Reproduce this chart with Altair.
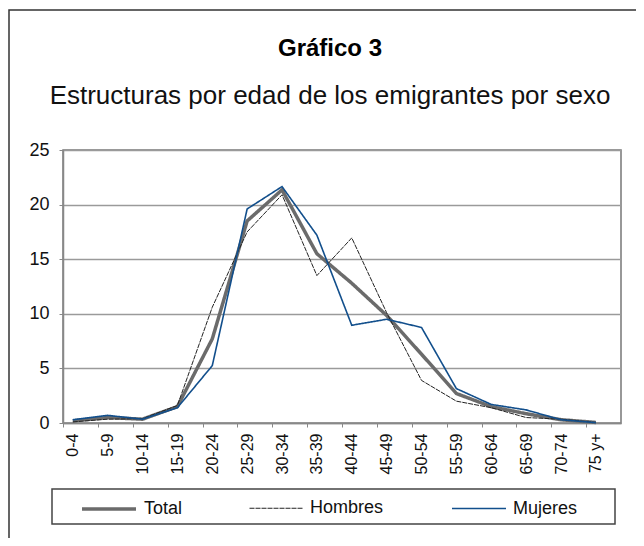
import altair as alt
import pandas as pd

categories = ["0-4", "5-9", "10-14", "15-19", "20-24", "25-29", "30-34", "35-39",
              "40-44", "45-49", "50-54", "55-59", "60-64", "65-69", "70-74", "75 y+"]
total = [0.2, 0.5, 0.35, 1.5, 7.7, 18.5, 21.35, 15.5, 12.8, 9.85, 6.3, 2.7, 1.5, 0.85, 0.3, 0.05]
hombres = [0.1, 0.35, 0.4, 1.6, 10.6, 17.5, 20.9, 13.5, 16.95, 10.1, 3.9, 2.0, 1.4, 0.5, 0.35, 0.05]
mujeres = [0.3, 0.7, 0.35, 1.4, 5.25, 19.6, 21.65, 17.2, 8.95, 9.5, 8.75, 3.15, 1.7, 1.2, 0.3, 0.03]
series_names = ["Total", "Hombres", "Mujeres"]
y_ticks = [0, 5, 10, 15, 20, 25]

rows = []
for name, vals in zip(series_names, [total, hombres, mujeres]):
    for c, v in zip(categories, vals):
        rows.append({"edad": c, "valor": v, "serie": name})
df = pd.DataFrame(rows)

FONT = "Liberation Sans"

x_enc = alt.X("edad:N", sort=categories, title=None,
              scale=alt.Scale(type="point", padding=0.5, align=0.28),
              axis=alt.Axis(labelAngle=-90, labelFontSize=16, labelFont=FONT, labelColor="#111",
                            tickSize=4, tickColor="#888", tickOffset=-9.7, labelOffset=9.7,
                            labelPadding=6, domainColor="#888", domainWidth=1.5, grid=False))
y_enc = alt.Y("valor:Q", title=None,
              scale=alt.Scale(domain=[0, 25], nice=False),
              axis=alt.Axis(values=y_ticks, labelFontSize=18, labelFont=FONT, labelColor="#111",
                            tickSize=4, tickColor="#888", labelPadding=10,
                            domainColor="#888", domainWidth=1.5,
                            gridColor="#9a9a9a", gridWidth=1.5))
color_enc = alt.Color("serie:N", title=None,
                      scale=alt.Scale(domain=series_names, range=["#6b6b6b", "#222222", "#124f8c"]))
width_enc = alt.StrokeWidth("serie:N", title=None,
                            scale=alt.Scale(type="ordinal", domain=series_names, range=[3.5, 1, 1.6]))
dash_enc = alt.StrokeDash("serie:N", title=None,
                          scale=alt.Scale(domain=series_names, range=[[1, 0], [5, 1], [1, 0]]))

base = alt.Chart(df).mark_line().encode(
    x=x_enc, y=y_enc, color=color_enc, strokeWidth=width_enc, strokeDash=dash_enc)

layers = [base.transform_filter(alt.datum.serie == s) for s in series_names]

one = pd.DataFrame({"k": [0]})
frame = alt.Chart(one).mark_rect(fill="transparent", stroke="#333", strokeWidth=1.5).encode(
    x=alt.value(-54), x2=alt.value(700), y=alt.value(-140), y2=alt.value(600))
legend_box = alt.Chart(one).mark_rect(fill="white", stroke="#444", strokeWidth=1.5).encode(
    x=alt.value(-11), x2=alt.value(552), y=alt.value(339), y2=alt.value(374))

chart = alt.layer(frame, legend_box, *layers).properties(
    width=558, height=273,
    autosize=alt.AutoSizeParams(type="none"),
    padding={"left": 55, "top": 142, "right": 15, "bottom": 115},
    title=alt.TitleParams(
        text="Gráfico 3",
        subtitle="Estructuras por edad de los emigrantes por sexo",
        font=FONT, fontSize=24, fontWeight="bold", color="#000",
        subtitleFont=FONT, subtitleFontSize=26, subtitleColor="#111",
        anchor="middle", dx=-12, dy=138, offset=38, subtitlePadding=22),
).configure_view(stroke="#777", strokeWidth=1.5).configure_legend(
    orient="none", legendX=17, legendY=330, direction="horizontal",
    symbolType="stroke", symbolSize=2916, labelFontSize=18, labelFont=FONT,
    labelColor="#111", labelOffset=6, columnPadding=64, padding=0,
)

chart.save("out.html", embed_options={"renderer": "svg", "actions": False})
